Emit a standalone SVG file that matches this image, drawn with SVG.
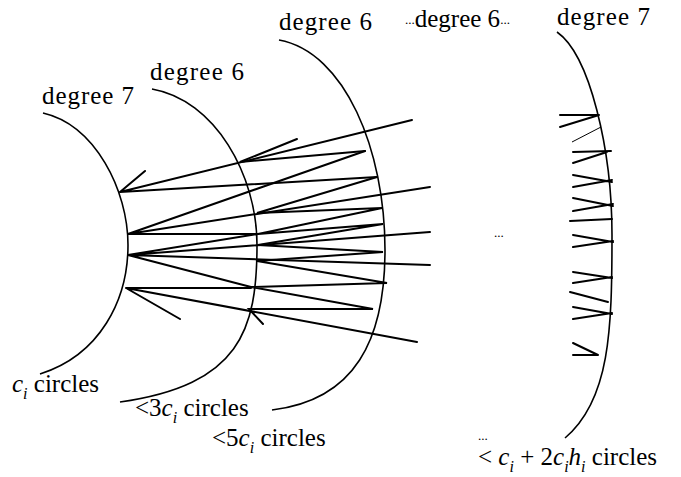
<svg xmlns="http://www.w3.org/2000/svg" width="681" height="477" viewBox="0 0 681 477">
<style>
.arc{fill:none;stroke:#000;stroke-width:1.6}
.e{fill:none;stroke:#000;stroke-width:2;stroke-linecap:round;stroke-linejoin:miter}
.thin{fill:none;stroke:#000;stroke-width:1}
.t{font-family:'Liberation Serif','Times New Roman','DejaVu Serif',serif;font-size:25px;fill:#000}
.it{font-style:italic}
.sub{font-style:italic;font-size:16px}
.dots{font-size:13px}
</style>
<rect width="681" height="477" fill="#fff"/>
<g id="layer1">
<path class="arc" d="M43,113 C95,125 128,190 128,245 C128,300 100,355 40,374"/>
<text class="t" font-family="Liberation Serif, serif" x="42" y="104" textLength="92">degree 7</text>
<text class="t" font-family="Liberation Serif, serif" x="12" y="392"><tspan class="it">c</tspan><tspan class="sub" dy="7">i</tspan><tspan dy="-7"> circles</tspan></text>
</g>
<g id="layer2">
<path class="arc" d="M152,89 C215,100 257,175 257,245 C257,330 240,385 120,402"/>
<text class="t" font-family="Liberation Serif, serif" x="150" y="80" textLength="94">degree 6</text>
<text class="t" font-family="Liberation Serif, serif" x="135" y="416">&lt;3<tspan class="it">c</tspan><tspan class="sub" dy="7">i</tspan><tspan dy="-7"> circles</tspan></text>
</g>
<g id="layer3">
<path class="arc" d="M279,40 C345,52 385,150 385,250 C385,340 355,400 272,410"/>
<text class="t" font-family="Liberation Serif, serif" x="279" y="30" textLength="93">degree 6</text>
<text class="t" font-family="Liberation Serif, serif" x="212" y="446">&lt;5<tspan class="it">c</tspan><tspan class="sub" dy="7">i</tspan><tspan dy="-7"> circles</tspan></text>
</g>
<g id="layer-mid">
<text class="t" font-family="Liberation Serif, serif" x="405" y="27"><tspan class="dots" dy="-3">...</tspan><tspan dy="3">degree 6</tspan><tspan class="dots" dy="-3">...</tspan></text>
<text class="t dots" font-family="Liberation Serif, serif" x="494" y="237">...</text>
</g>
<g id="layerN">
<path class="arc" d="M557,32 C590,55 612,150 612,235 C612,330 610,400 565,438"/>
<text class="t" font-family="Liberation Serif, serif" x="557" y="25" textLength="93">degree 7</text>
<text class="t dots" font-family="Liberation Serif, serif" x="478" y="440">...</text>
<text class="t" font-family="Liberation Serif, serif" x="478" y="465">&lt; <tspan class="it">c</tspan><tspan class="sub" dy="7">i</tspan><tspan dy="-7"> + 2</tspan><tspan class="it">c</tspan><tspan class="sub" dy="7">i</tspan><tspan class="it" dy="-7">h</tspan><tspan class="sub" dy="7">i</tspan><tspan dy="-7"> circles</tspan></text>
</g>
<g id="connectors">
<path class="e" d="M120,192 L145,171 M120,192 L412,120 M120,192 L377,177"/>
<path class="e" d="M128,234 L365,151 M128,234 L430,187 M128,234 L258,234"/>
<path class="e" d="M128,255 L258,234 M128,255 L430,232 M128,255 L430,265 M128,255 L251,287"/>
<path class="e" d="M126,288 L251,288 M126,288 L417,342 M126,288 L180,319"/>
<polyline class="e" points="297,139 240,162 365,151"/>
<polyline class="e" points="377,177 257,213 382,208 258,234 383,224 258,245 383,252 257,261 387,283 251,287 373,309 249,309 263,324"/>
<path class="e" d="M560,115 L599,115 M560,127 L599,115"/>
<path class="thin" d="M572,142 L601,127"/>
<path class="e" d="M573,152 L611,151 M573,163 L607,152"/>
<path class="e" d="M573,175 L612,182 M573,187 L612,180"/>
<path class="e" d="M573,198 L613,206 M573,211 L613,204"/>
<path class="e" d="M570,221 L612,219"/>
<path class="e" d="M573,235 L613,242 M573,247 L613,241"/>
<path class="e" d="M573,272 L612,278 M573,283 L612,277"/>
<path class="e" d="M570,292 L608,302"/>
<path class="e" d="M573,307 L612,314 M573,319 L612,313"/>
<path class="e" d="M573,343 L598,355 M573,355 L598,355"/>
</g>
</svg>
